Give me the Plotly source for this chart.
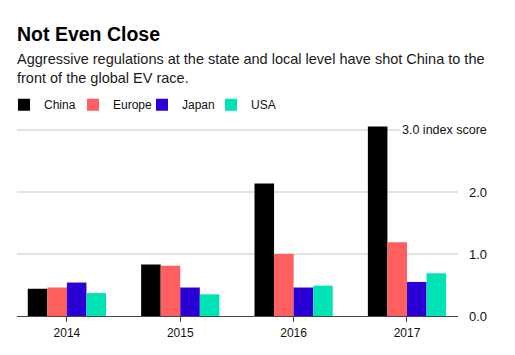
import plotly.graph_objects as go

years = ["2014", "2015", "2016", "2017"]
china = [0.44, 0.83, 2.14, 3.06]
europe = [0.46, 0.81, 1.00, 1.19]
japan = [0.54, 0.46, 0.46, 0.55]
usa = [0.37, 0.35, 0.49, 0.69]
series = [("China", china, "#000000"), ("Europe", europe, "#ff5f5f"),
          ("Japan", japan, "#2a00d6"), ("USA", usa, "#00e3b4")]
ytickvals = [0, 1, 2, 3]
yticktext = ["0.0", "1.0", "2.0", ""]

FONT = "Liberation Sans"
fig = go.Figure()
for name, vals, col in series:
    fig.add_trace(go.Bar(x=years, y=vals, name=name, marker=dict(color=col, line=dict(width=0))))

# page body has an 8px margin, so the figure is shrunk by 8px and margins offset
fig.update_layout(
    width=507, height=347,
    margin=dict(l=9, r=57, t=116, b=39, autoexpand=False),
    paper_bgcolor="white", plot_bgcolor="white",
    barmode="group", bargap=0.31, bargroupgap=0,
    font=dict(family=FONT, size=13, color="#111"),
    showlegend=True,
    legend=dict(orientation="h", x=-0.0295, xanchor="left", y=1.1, yanchor="middle",
                font=dict(size=12, color="#111"), itemwidth=30, traceorder="normal",
                entrywidth=24, entrywidthmode="pixels",
                itemclick=False, tracegroupgap=0),
    xaxis=dict(type="category", range=[-0.44, 3.45], showgrid=False,
               showline=True, linecolor="#444", linewidth=1.2,
               ticks="outside", ticklen=5, tickcolor="#444", tickwidth=1,
               tickfont=dict(size=12, color="#111")),
    yaxis=dict(range=[0, 3.1], side="right", tickvals=ytickvals, ticktext=yticktext,
               showgrid=True, gridcolor="#e2e2e2", gridwidth=1.5, zeroline=False,
               showline=False, ticks="", ticklabelstandoff=10,
               tickfont=dict(size=13, color="#111")),
    annotations=[
        dict(text="<b>Not Even Close</b>", xref="paper", yref="paper", x=0, y=1.469,
             xanchor="left", yanchor="middle", showarrow=False,
             font=dict(size=19.5, color="#000", family=FONT), xshift=-2),
        dict(text="Aggressive regulations at the state and local level have shot China to the<br>front of the global EV race.",
             xref="paper", yref="paper", x=0, y=1.289, xanchor="left", yanchor="middle",
             showarrow=False, align="left",
             font=dict(size=14.5, color="#1a1a1a", family=FONT), xshift=-2),
        dict(text="3.0 index score", xref="paper", yref="y", x=1, y=3, xanchor="right",
             yanchor="middle", showarrow=False, bgcolor="white", xshift=31,
             font=dict(size=12.5, color="#111", family=FONT)),
    ],
)
fig.write_html("out.html")
